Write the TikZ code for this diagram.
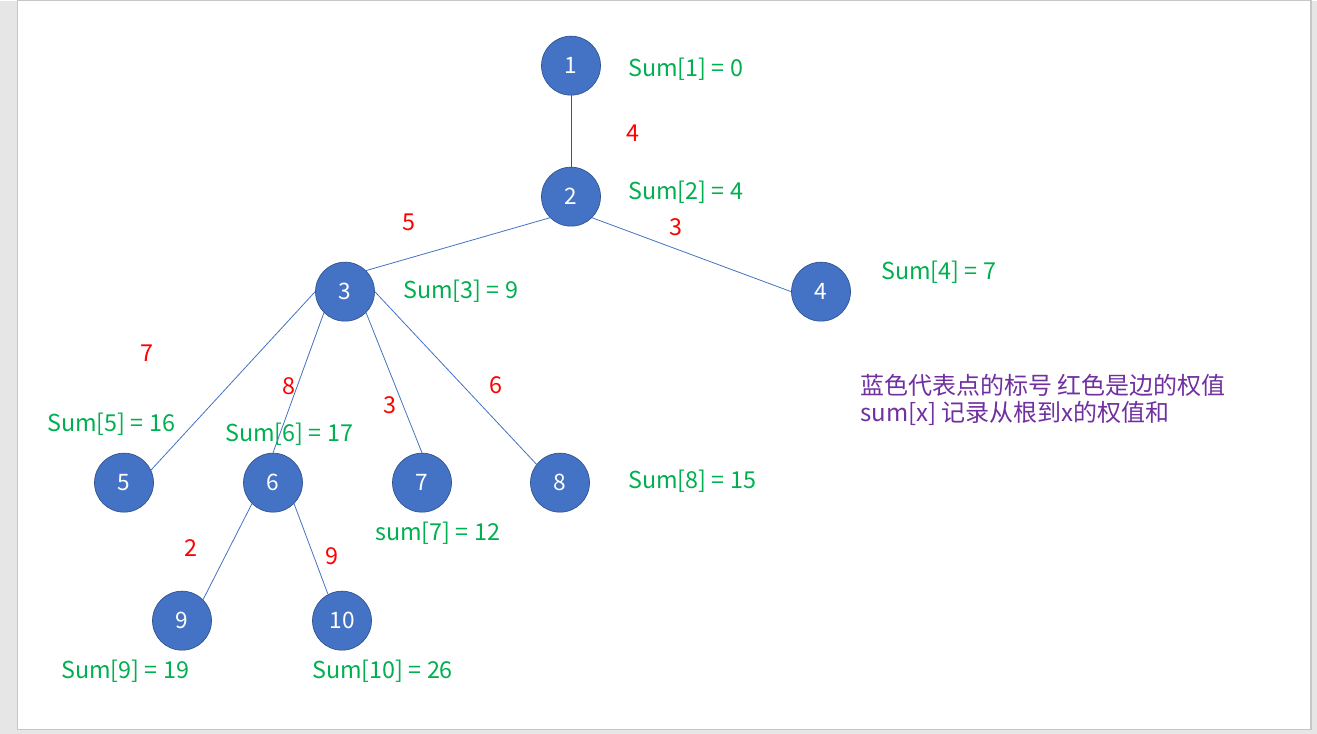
\documentclass[tikz,border=0pt]{standalone}
\usepackage{fontspec}
\setmainfont{Noto Sans CJK SC}
\definecolor{nodeblue}{HTML}{4472C4}
\definecolor{nodeedge}{HTML}{2F528F}
\definecolor{sumgreen}{HTML}{00B050}
\definecolor{notepurple}{HTML}{7030A0}
\definecolor{pagegray}{HTML}{E6E6E6}
\definecolor{pageborder}{HTML}{C6C6C6}
\definecolor{darkline}{HTML}{44546A}
\begin{document}
\begin{tikzpicture}[x=0.75pt,y=-0.75pt,
  vert/.style={circle,fill=nodeblue,draw=nodeedge,line width=0.5pt,minimum size=44.25pt,inner sep=0pt,text=white,font=\fontsize{17}{20}\selectfont},
  wt/.style={text=red,font=\fontsize{17.5}{20}\selectfont,inner sep=0pt},
  sumlbl/.style={text=sumgreen,font=\fontsize{17.5}{20}\selectfont,inner sep=0pt,anchor=west},
  edge/.style={draw=nodeblue,line width=0.6pt},
  note/.style={text=notepurple,font=\fontsize{18}{21}\selectfont,inner sep=0pt,anchor=west}]
\fill[pagegray] (0,0) rectangle (1317,733);
\draw[pageborder,fill=white,line width=1pt] (17.5,0) rectangle (1311,729);
\useasboundingbox (0,0) rectangle (1317,733);

\node[vert] (n1) at (571,65) {1};
\node[vert] (n2) at (571,196) {2};
\node[vert] (n3) at (345,291) {3};
\node[vert] (n4) at (821,291) {4};
\node[vert] (n5) at (124,482) {5};
\node[vert] (n6) at (273,482) {6};
\node[vert] (n7) at (422,482) {7};
\node[vert] (n8) at (560,482) {8};
\node[vert] (n9) at (182,620) {9};
\node[vert] (n10) at (342,620) {10};

\draw[draw=darkline,line width=0.6pt] (n1.south) -- (n2.north);
\draw[edge] (n2.south west) -- (n3.north east);
\draw[edge] (n2.south east) -- (n4.west);
\draw[edge] (n3.west) -- (n5.25);
\draw[edge] (n3.south west) -- (n6.north);
\draw[edge] (n3.south east) -- (n7.north);
\draw[edge] (n3.east) -- (n8.142);
\draw[edge] (n6.south west) -- (n9.north east);
\draw[edge] (n6.south east) -- (n10.118);

\node[wt] (w12) at (633,133) {4};
\node[wt] (w23) at (409,222) {5};
\node[wt] (w24) at (676,227) {3};
\node[wt] (w35) at (147,353) {7};
\node[wt] (w36) at (289,386) {8};
\node[wt] (w37) at (390,405) {3};
\node[wt] (w38) at (496,385) {6};
\node[wt] (w69) at (191,547) {2};
\node[wt] (w610) at (332,556) {9};

\node[sumlbl] (s1) at (628,69) {Sum[1] = 0};
\node[sumlbl] (s2) at (628,192) {Sum[2] = 4};
\node[sumlbl] (s3) at (403,291) {Sum[3] = 9};
\node[sumlbl] (s4) at (881,272) {Sum[4] = 7};
\node[sumlbl] (s5) at (47,424) {Sum[5] = 16};
\node[sumlbl] (s6) at (225,434) {Sum[6] = 17};
\node[sumlbl] (s7) at (375,533) {sum[7] = 12};
\node[sumlbl] (s8) at (628,481) {Sum[8] = 15};
\node[sumlbl] (s9) at (61,671) {Sum[9] = 19};
\node[sumlbl] (s10) at (312,671) {Sum[10] = 26};

\node[note] (t1) at (860,385) {蓝色代表点的标号 红色是边的权值};
\node[note] (t2) at (860,413) {sum[x] 记录从根到x的权值和};
\end{tikzpicture}
\end{document}
